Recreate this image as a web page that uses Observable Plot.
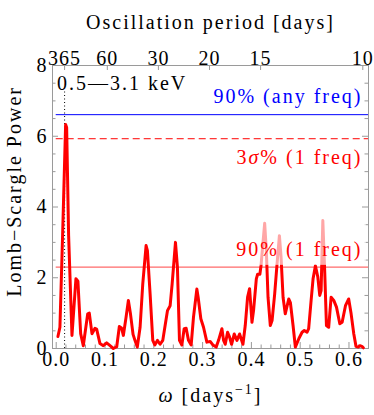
<!DOCTYPE html>
<html><head><meta charset="utf-8">
<script src="https://cdn.jsdelivr.net/npm/d3@7"></script>
<script src="https://cdn.jsdelivr.net/npm/@observablehq/plot@0.6"></script>
<style>body{margin:0;background:#fff} svg{display:block}</style>
</head><body><div id="chart"></div>
<script>
// ---- data ----
const omega = [0.0035,0.0076,0.0131,0.0193,0.0214,0.0254,0.0323,0.0404,0.0445,0.0501,0.0555,0.0645,0.0678,0.0733,0.0795,0.0829,0.0897,0.0966,0.1034,0.1103,0.1171,0.1240,0.1294,0.1339,0.1376,0.1431,0.1479,0.1520,0.1575,0.1614,0.1662,0.1719,0.1774,0.1842,0.1869,0.1924,0.1979,0.2021,0.2074,0.2129,0.2184,0.2232,0.2280,0.2335,0.2376,0.2444,0.2484,0.2526,0.2575,0.2622,0.2663,0.2711,0.2766,0.2813,0.2882,0.2909,0.2964,0.3019,0.3088,0.3155,0.3210,0.3279,0.3327,0.3396,0.3430,0.3464,0.3512,0.3553,0.3594,0.3649,0.3704,0.3758,0.3827,0.3874,0.3922,0.3963,0.4012,0.4044,0.4101,0.4128,0.4174,0.4197,0.4238,0.4272,0.4306,0.4341,0.4388,0.4424,0.4477,0.4526,0.4574,0.4608,0.4649,0.4694,0.4765,0.4799,0.4854,0.4901,0.4970,0.5039,0.5084,0.5141,0.5174,0.5224,0.5264,0.5312,0.5360,0.5401,0.5429,0.5464,0.5504,0.5538,0.5584,0.5634,0.5688,0.5744,0.5812,0.5860,0.5928,0.5994,0.6044,0.6099,0.6144,0.6189,0.6224,0.6265,0.6295];
const power = [0.34,0.60,3.20,6.33,6.25,3.20,0.37,1.97,1.90,0.42,0.08,0.98,1.00,0.42,0.57,0.55,0.14,0.08,0.16,0.08,0.00,0.05,0.62,0.58,0.37,0.88,1.36,1.00,0.40,0.23,0.04,0.60,1.83,2.91,2.77,1.55,0.23,0.10,0.23,0.12,0.23,0.65,1.07,1.21,1.83,3.00,2.30,0.23,0.10,0.56,0.57,0.23,0.10,0.88,1.68,1.45,0.84,0.60,0.18,0.20,0.10,0.04,0.23,0.56,0.23,0.12,0.46,0.32,0.12,0.41,0.23,0.41,0.12,0.65,1.45,1.69,0.74,1.07,1.97,2.10,2.10,2.34,3.00,3.54,2.77,1.45,0.65,0.79,1.54,2.39,3.19,2.58,1.45,0.98,1.40,1.30,0.65,0.04,0.27,0.46,0.51,0.46,0.56,1.36,1.97,2.34,2.03,1.50,1.64,3.62,2.12,0.65,0.60,1.45,1.36,1.17,0.70,0.74,1.21,1.40,0.98,0.41,0.06,0.04,0.08,0.06,0.02];
const periodTicks = [365, 60, 30, 20, 15, 10];
const xTicks = [0, 0.1, 0.2, 0.3, 0.4, 0.5, 0.6];
const yTicks = [0, 2, 4, 6, 8];
const thresholdLabels = ["90% (any freq)", "3σ% (1 freq)", "90% (1 freq)"];
const thresholdValues = [6.61, 5.93, 2.30];
const thresholdColors = ["#0000ff", "#ff0000", "#ff6a6a"];
const bandLabel = "0.5—3.1 keV";
const markerPeriod = 365;

// ---- layout ----
const W = 374, H = 415, mL = 52, mR = 6, mT = 65, mB = 67;
const FH = H - mT - mB, FW = W - mL - mR;
const xDom = [-0.0076, 0.640];
const gray = "#9a9a9a";
const serif = "Liberation Serif";
const data = omega.map((w, i) => ({w, p: power[i]}));
const xMinor = d3.range(0, 0.6401, 0.02).filter(v => Math.abs(v * 10 - Math.round(v * 10)) > 1e-6);
const yMinor = d3.range(0, 8.001, 0.5).filter(v => v % 2 !== 0);
const labelX = 0.6277, labelYs = [7.12, 5.40, 2.80];

const chart = Plot.plot({
  width: W, height: H,
  marginLeft: mL, marginRight: mR, marginTop: mT, marginBottom: mB,
  style: {fontFamily: serif, background: "white", overflow: "visible"},
  x: {domain: xDom, axis: null},
  y: {domain: [0, 8], axis: null},
  marks: [
    Plot.frame({stroke: gray}),
    Plot.tickX(xTicks, {x: d => d, insetTop: FH - 6, stroke: gray}),
    Plot.tickX(xMinor, {x: d => d, insetTop: FH - 3.5, stroke: gray}),
    Plot.tickX(periodTicks, {x: p => 2 * Math.PI / p, insetBottom: FH - 5, stroke: gray}),
    Plot.tickY(yTicks, {y: d => d, insetRight: FW - 6, stroke: gray}),
    Plot.tickY(yMinor, {y: d => d, insetRight: FW - 3.5, stroke: gray}),
    Plot.tickY(yTicks, {y: d => d, insetLeft: FW - 6, stroke: gray}),
    Plot.tickY(yMinor, {y: d => d, insetLeft: FW - 3.5, stroke: gray}),
    Plot.ruleY([thresholdValues[0]], {y: d => d, x1: 0, x2: xDom[1], stroke: thresholdColors[0], strokeWidth: 1}),
    Plot.ruleY([thresholdValues[1]], {y: d => d, x1: 0, x2: xDom[1], stroke: thresholdColors[1], strokeWidth: 1, strokeDasharray: "7,4"}),
    Plot.ruleY([thresholdValues[2]], {y: d => d, x1: 0, x2: xDom[1], stroke: thresholdColors[2], strokeWidth: 1.4}),
    Plot.ruleX([2 * Math.PI / markerPeriod], {x: d => d, y1: 0, y2: 7.25, stroke: "black", strokeWidth: 1, strokeDasharray: "1,2.5"}),
    Plot.line(data, {x: "w", y: "p", stroke: "#ff0000", strokeWidth: 3, strokeLinejoin: "round"}),
    Plot.rect([thresholdValues[2]], {x1: labelX - 0.263, x2: labelX + 0.008, y1: d => d + 0.05, y2: d => d + 1.43, fill: "white", fillOpacity: 0.65}),
    // tick labels
    Plot.text(xTicks, {x: d => d, text: d => d.toFixed(1), frameAnchor: "bottom", dy: 17, fontSize: 20}),
    Plot.text(periodTicks, {x: p => 2 * Math.PI / p, text: p => String(p), frameAnchor: "top", dy: -15, fontSize: 20}),
    Plot.text(yTicks, {y: d => d, text: d => String(d), frameAnchor: "left", textAnchor: "end", dx: -5, fontSize: 20}),
    // titles
    Plot.text(["Oscillation period [days]"], {frameAnchor: "top", dy: -51, fontSize: 20}),
    Plot.text(["ω [days-1]"], {frameAnchor: "bottom", dy: 53, fontSize: 20}),
    Plot.text(["Lomb\u2212Scargle Power"], {x: -0.0848, y: 4.44, rotate: -90, fontSize: 20}),
    // annotations
    Plot.text([bandLabel], {x: 0.0014, y: 7.48, textAnchor: "start", fontSize: 20, fill: "black"}),
    Plot.text(thresholdLabels, {x: labelX, y: (d, i) => labelYs[i], textAnchor: "end", fontSize: 20, fill: (d, i) => thresholdColors[i === 2 ? 1 : i]})
  ]
});
document.getElementById("chart").appendChild(chart);

// styling of rich text
const tickSet = new Set([...xTicks.map(d => d.toFixed(1)), ...periodTicks.map(String), ...yTicks.map(String)]);
chart.querySelectorAll("text").forEach(t => {
  const s = t.textContent;
  t.style.letterSpacing = tickSet.has(s) ? "1px" : "2px";
  if (s === "ω [days-1]") {
    t.innerHTML = '<tspan font-style="italic">ω</tspan> [days<tspan dy="-8" font-size="14">\u22121</tspan><tspan dy="8">]</tspan>';
  } else if (s === "3σ% (1 freq)") {
    t.innerHTML = '3<tspan font-style="italic">σ</tspan>% (1 freq)';
  }
});
</script></body></html>
